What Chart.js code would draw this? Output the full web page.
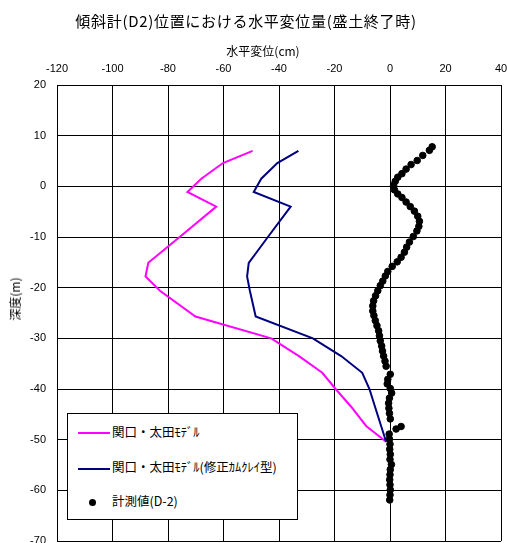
<!DOCTYPE html>
<html>
<head>
<meta charset="utf-8">
<script src="https://cdn.jsdelivr.net/npm/chart.js@4/dist/chart.umd.min.js"></script>
<style>
  body { margin: 0; background: #fff; }
  #wrap { position: relative; width: 507px; height: 543px; overflow: hidden; }
  #c { position: absolute; left: 0; top: 0; }
  .jp { position: absolute; font-family: "Noto Sans CJK JP", sans-serif; color: #000; white-space: nowrap; line-height: 1; }
  #title { left: 246px; top: 20px; transform: translate(-50%, -50%); font-size: 15px; letter-spacing: 0.7px; }
  #xtitle { left: 263px; top: 51px; transform: translate(-50%, -50%); font-size: 12px; }
  #ytitle { left: 15px; top: 299px; transform: translate(-50%, -50%) rotate(-90deg); font-size: 12px; }
  #legend { position: absolute; left: 67px; top: 413px; width: 229px; height: 105px; background: #fff; border: 1px solid #000; }
  .sw { position: absolute; left: 10px; width: 32px; height: 2px; }
  .dot { position: absolute; left: 21px; width: 7px; height: 7px; border-radius: 50%; background: #000; }
  .lbl { left: 44px; font-size: 12.5px; }
</style>
</head>
<body>
<div id="wrap">
  <canvas id="c" width="507" height="560"></canvas>
  <div id="title" class="jp">傾斜計(D2)位置における水平変位量(盛土終了時)</div>
  <div id="xtitle" class="jp">水平変位(cm)</div>
  <div id="ytitle" class="jp">深度(m)</div>
  <div id="legend">
    <div class="sw" style="top:18px;background:#ff00ff"></div>
    <div class="jp lbl" style="top:12px">関口・太田ﾓﾃﾞﾙ</div>
    <div class="sw" style="top:54px;background:#000080"></div>
    <div class="jp lbl" style="top:47px">関口・太田ﾓﾃﾞﾙ(修正ｶﾑｸﾚｲ型)</div>
    <div class="dot" style="top:85px"></div>
    <div class="jp lbl" style="top:81px">計測値(D-2)</div>
  </div>
</div>
<script>
// model node depths (m) shared by both model curves
const modelDepth = [7, 4.6, 1.5, -1.1, -4, -10, -15.1, -17.8, -20.6, -25.7, -30, -33.5, -36.8, -40, -43.5, -47.3, -50.4];
const ohtaDisp = [-49.5, -60.2, -68, -73, -62.6, -75.8, -87.1, -88.1, -82.9, -70.1, -42.8, -32.8, -24.4, -19.6, -14, -8.6, -1.4];
const camclayDisp = [-33, -40.6, -46.4, -49.1, -35.8, -44, -50.9, -51.5, -50.5, -48.4, -27.8, -17.6, -10, -7.4, -5.4, -3.2, -1.4];

// inclinometer D-2 readings
const measDepth = [7.8, 7.1, 6.1, 5.1, 4.3, 3.4, 2.5, 1.8, 1.0, 0.2, -0.7, -1.5, -2.2, -3.1, -4.0, -4.9, -5.9, -6.9, -7.9, -8.8,
  -9.9, -11.0, -12.0, -13.0, -14.0, -14.9, -15.8, -16.8, -17.7, -18.7, -19.6, -20.6, -21.6, -22.6, -23.6, -24.6, -25.5, -26.5, -27.5, -28.5,
  -29.5, -30.5, -31.5, -32.5, -33.5, -34.5, -35.5, -37.1, -38.1, -39.0, -39.9, -40.8, -41.8, -42.8, -43.8, -44.8, -45.9, -47.4, -47.9, -48.9,
  -49.9, -50.9, -51.9, -52.9, -53.9, -54.9, -55.9, -56.9, -57.9, -58.9, -59.9, -60.9, -61.9];
const measDisp = [15.2, 14.2, 11.8, 9.8, 7.6, 5.8, 4.3, 2.8, 1.9, 1.3, 1.6, 2.8, 4.3, 5.8, 7.3, 8.8, 10.0, 10.6, 10.4, 9.7,
  8.4, 7.0, 6.0, 5.2, 4.0, 2.6, 0.8, -0.8, -1.7, -2.6, -3.5, -4.4, -5.2, -5.9, -6.2, -6.2, -5.8, -5.3, -4.7, -4.1,
  -3.8, -3.5, -3.0, -2.7, -2.3, -1.8, -1.4, 0.1, -0.8, -1.0, 0.1, 0.6, -0.2, -0.5, -0.4, -0.2, 0.1, 4.0, 2.2, -0.3,
  -0.2, 0, -0.1, 0.1, 0, 0.5, 0.1, 0, -0.1, 0, 0.1, 0, -0.1];

const xTicks = [-120, -100, -80, -60, -40, -20, 0, 20, 40];

const toPts = (xs, ys) => xs.map((x, i) => ({ x: x, y: ys[i] }));
const tickFont = { family: '"Liberation Sans", Arial, sans-serif', size: 11 };

new Chart(document.getElementById('c'), {
  type: 'scatter',
  data: {
    datasets: [
      {
        label: '計測値(D-2)',
        data: toPts(measDisp, measDepth),
        backgroundColor: '#000',
        borderColor: '#000',
        pointRadius: 3.3,
        order: 0,
      },
      {
        label: '関口・太田ﾓﾃﾞﾙ',
        data: toPts(ohtaDisp, modelDepth),
        showLine: true,
        borderColor: '#ff00ff',
        borderWidth: 2,
        pointRadius: 0,
        fill: false,
        order: 2,
      },
      {
        label: '関口・太田ﾓﾃﾞﾙ(修正ｶﾑｸﾚｲ型)',
        data: toPts(camclayDisp, modelDepth),
        showLine: true,
        borderColor: '#000080',
        borderWidth: 2,
        pointRadius: 0,
        fill: false,
        order: 1,
      },
    ],
  },
  options: {
    responsive: false,
    animation: false,
    layout: { padding: { left: 0, right: 6, top: 0, bottom: 19 } },
    plugins: { legend: { display: false }, tooltip: { enabled: false } },
    scales: {
      x: {
        type: 'linear',
        position: 'top',
        min: -120,
        max: 40,
        afterBuildTicks: (scale) => { scale.ticks = xTicks.map(v => ({ value: v })); },
        afterFit: (scale) => { scale.height = 85; scale.paddingLeft = 0; scale.paddingRight = 0; },
        ticks: { font: tickFont, color: '#000', padding: 9 },
        grid: { color: '#000', lineWidth: 1, drawTicks: false },
        border: { color: '#000' },
      },
      y: {
        type: 'linear',
        min: -70,
        max: 20,
        ticks: { stepSize: 10, font: tickFont, color: '#000', padding: 11 },
        afterFit: (scale) => { scale.width = 57; },
        grid: { color: '#000', lineWidth: 1, drawTicks: false },
        border: { color: '#000' },
      },
    },
  },
});
</script>
</body>
</html>
